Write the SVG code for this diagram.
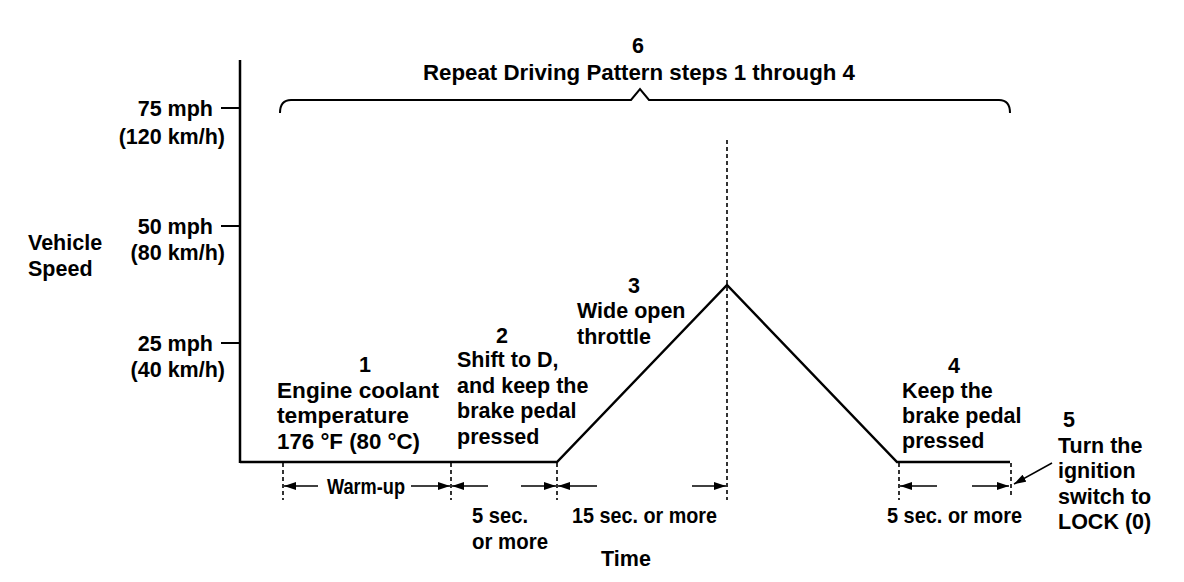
<svg xmlns="http://www.w3.org/2000/svg" width="1184" height="582" viewBox="0 0 1184 582">
<defs>
<style>
text{font-family:"Liberation Sans",Arial,sans-serif;font-weight:bold;font-size:21.5px;fill:#000}
.ax{stroke:#000;stroke-width:2.5;fill:none}
.tk{stroke:#000;stroke-width:2;fill:none}
.dash{stroke:#000;stroke-width:1.6;stroke-dasharray:4,3;fill:none}
.dim{stroke:#000;stroke-width:1.5;fill:none}
.e{text-anchor:end}
.m{text-anchor:middle}
</style>
<marker id="ah" viewBox="0 0 12 8" refX="12" refY="4" markerWidth="12" markerHeight="8" markerUnits="userSpaceOnUse" orient="auto">
<path d="M0,0 L12,4 L0,8 Z" fill="#000"/>
</marker>
</defs>
<rect width="1184" height="582" fill="#fff"/>

<g id="axes">
<line class="ax" x1="240" y1="60" x2="240" y2="463"/>
<line class="tk" x1="221" y1="108" x2="240" y2="108"/>
<line class="tk" x1="221" y1="226" x2="240" y2="226"/>
<line class="tk" x1="221" y1="343" x2="240" y2="343"/>
<text class="e" x="213" y="116">75 mph</text>
<text class="e" x="225" y="144">(120 km/h)</text>
<text class="e" x="213" y="234">50 mph</text>
<text class="e" x="225" y="260">(80 km/h)</text>
<text class="e" x="213" y="351">25 mph</text>
<text class="e" x="225" y="377">(40 km/h)</text>
<text x="28" y="250">Vehicle</text>
<text x="28" y="276">Speed</text>
<text class="m" x="626" y="566">Time</text>
</g>

<g id="connectors">
<polyline class="ax" points="240,462 557,462 727,285 897,462 1010,462"/>
<line class="dash" x1="283" y1="463" x2="283" y2="500"/>
<line class="dash" x1="451" y1="463" x2="451" y2="500"/>
<line class="dash" x1="557" y1="463" x2="557" y2="500"/>
<line class="dash" x1="727" y1="140" x2="727" y2="500"/>
<line class="dash" x1="899" y1="463" x2="899" y2="500"/>
<line class="dash" x1="1011" y1="463" x2="1011" y2="498"/>
<line class="dim" x1="318" y1="486" x2="284" y2="486" marker-end="url(#ah)"/>
<line class="dim" x1="411" y1="486" x2="450" y2="486" marker-end="url(#ah)"/>
<line class="dim" x1="488" y1="486" x2="452" y2="486" marker-end="url(#ah)"/>
<line class="dim" x1="521" y1="486" x2="556" y2="486" marker-end="url(#ah)"/>
<line class="dim" x1="597" y1="486" x2="558" y2="486" marker-end="url(#ah)"/>
<line class="dim" x1="692" y1="486" x2="726" y2="486" marker-end="url(#ah)"/>
<line class="dim" x1="937" y1="486" x2="900" y2="486" marker-end="url(#ah)"/>
<line class="dim" x1="972" y1="486" x2="1009" y2="486" marker-end="url(#ah)"/>
<line class="dim" x1="1052" y1="463" x2="1014" y2="484" marker-end="url(#ah)"/>
<path class="tk" d="M280,113 Q280,100 291,100 L631,100 L640,89 L649,100 L999,100 Q1010,100 1010,113"/>
</g>

<g id="step1">
<text class="m" x="365" y="372">1</text>
<text x="277" y="398" textLength="162" lengthAdjust="spacingAndGlyphs">Engine coolant</text>
<text x="277" y="423" textLength="132" lengthAdjust="spacingAndGlyphs">temperature</text>
<text x="277" y="449" textLength="143" lengthAdjust="spacingAndGlyphs">176 °F (80 °C)</text>
</g>
<g id="warmup">
<text x="327" y="494" textLength="78" lengthAdjust="spacingAndGlyphs">Warm-up</text>
</g>
<g id="step2">
<text class="m" x="502" y="343">2</text>
<text x="457" y="367">Shift to D,</text>
<text x="457" y="393">and keep the</text>
<text x="457" y="418">brake pedal</text>
<text x="457" y="444">pressed</text>
<text x="472" y="523" textLength="56" lengthAdjust="spacingAndGlyphs">5 sec.</text>
<text x="472" y="549" textLength="76" lengthAdjust="spacingAndGlyphs">or more</text>
</g>
<g id="step3">
<text class="m" x="634" y="293">3</text>
<text x="577" y="318">Wide open</text>
<text x="577" y="344">throttle</text>
<text x="572" y="523" textLength="145" lengthAdjust="spacingAndGlyphs">15 sec. or more</text>
</g>
<g id="step4">
<text class="m" x="954" y="373">4</text>
<text x="902" y="398">Keep the</text>
<text x="902" y="423">brake pedal</text>
<text x="902" y="448">pressed</text>
<text x="887" y="523" textLength="135" lengthAdjust="spacingAndGlyphs">5 sec. or more</text>
</g>
<g id="step5">
<text class="m" x="1069" y="427">5</text>
<text x="1058" y="453">Turn the</text>
<text x="1058" y="478">ignition</text>
<text x="1058" y="504">switch to</text>
<text x="1058" y="529">LOCK (0)</text>
</g>
<g id="step6">
<text class="m" x="638" y="53">6</text>
<text class="m" x="639" y="80" textLength="432" lengthAdjust="spacingAndGlyphs">Repeat Driving Pattern steps 1 through 4</text>
</g>
</svg>
